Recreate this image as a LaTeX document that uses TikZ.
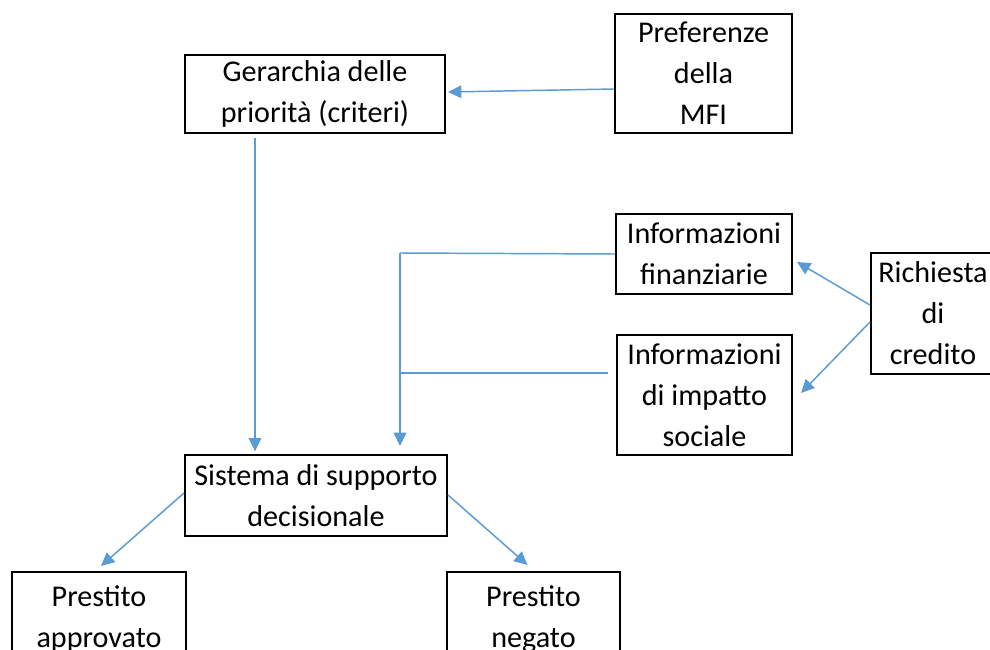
\documentclass[tikz,border=0pt]{standalone}
\usepackage{fontspec}
\setmainfont{Carlito}
\usetikzlibrary{calc,arrows.meta}
\definecolor{linkblue}{HTML}{5B9BD5}
\tikzset{
	box/.style={draw=black, line width=1.5pt, inner sep=0pt, align=center, font=\fontsize{22.6}{30.75}\selectfont},
	link/.style={draw=linkblue, line width=1.1pt, -{Triangle[length=10pt,width=9.5pt]}},
	plain/.style={draw=linkblue, line width=1.1pt}
}

\begin{document}
\begin{tikzpicture}[x=0.75pt, y=-0.75pt]
		%%%%% START %%%%%
		\useasboundingbox (0, 0) rectangle (990, 650);
		\clip (0, 0) rectangle (990, 650);
		
		\node[box, minimum width=195pt, minimum height=58.5pt] (ger) at (315, 94) {Gerarchia delle\\priorità (criteri)};
		\node[box, minimum width=132.75pt, minimum height=89.25pt] (pref) at (703.5, 73.5) {Preferenze\\della\\MFI};
		\node[box, minimum width=132pt, minimum height=60pt] (fin) at (704, 254) {Informazioni\\finanziarie};
		\node[box, minimum width=131.25pt, minimum height=90pt] (imp) at (704.5, 395) {Informazioni\\di impatto\\sociale};
		\node[box, minimum width=93pt, minimum height=90.75pt] (ric) at (933, 313.5) {Richiesta\\di\\credito};
		\node[box, minimum width=196.5pt, minimum height=60.75pt] (sis) at (316, 495.5) {Sistema di supporto\\decisionale};
		\node[box, minimum width=130.5pt, minimum height=70.5pt] (app) at (99, 619) {Prestito\\approvato};
		\node[box, minimum width=129.75pt, minimum height=70.5pt] (neg) at (533.5, 619) {Prestito\\negato};
		
		\draw[link] ($(pref.west)+(0, 15.5)$) -- ($(ger.east)+(2, -2)$);
		\draw[link, shorten <=3pt, shorten >=2pt] ($(ger.south)+(-60, 0)$) -- ($(sis.north)+(-61, 0)$);
		
		\coordinate (bus) at (400, 253);
		\coordinate (busb) at (400, 373);
		\draw[plain] (fin.west) -- (bus);
		\draw[plain, shorten <=6pt] ($(imp.west)+(0, -22)$) -- (busb);
		\draw[link, shorten >=6pt] (bus) -- (bus |- sis.north);
		
		\draw[link] ($(ric.west)+(0, -8.5)$) -- ($(fin.east)+(4, 8)$);
		\draw[link] ($(ric.west)+(0, 8.5)$) -- ($(imp.east)+(8, -2)$);
		
		\draw[link] ($(sis.west)+(0, -2.5)$) -- ($(app.north)+(2, -5)$);
		\draw[link] ($(sis.east)+(0, -0.5)$) -- ($(neg.north)+(-6, -6)$);
		%%%%% END %%%%%
	\end{tikzpicture}
\end{document}
